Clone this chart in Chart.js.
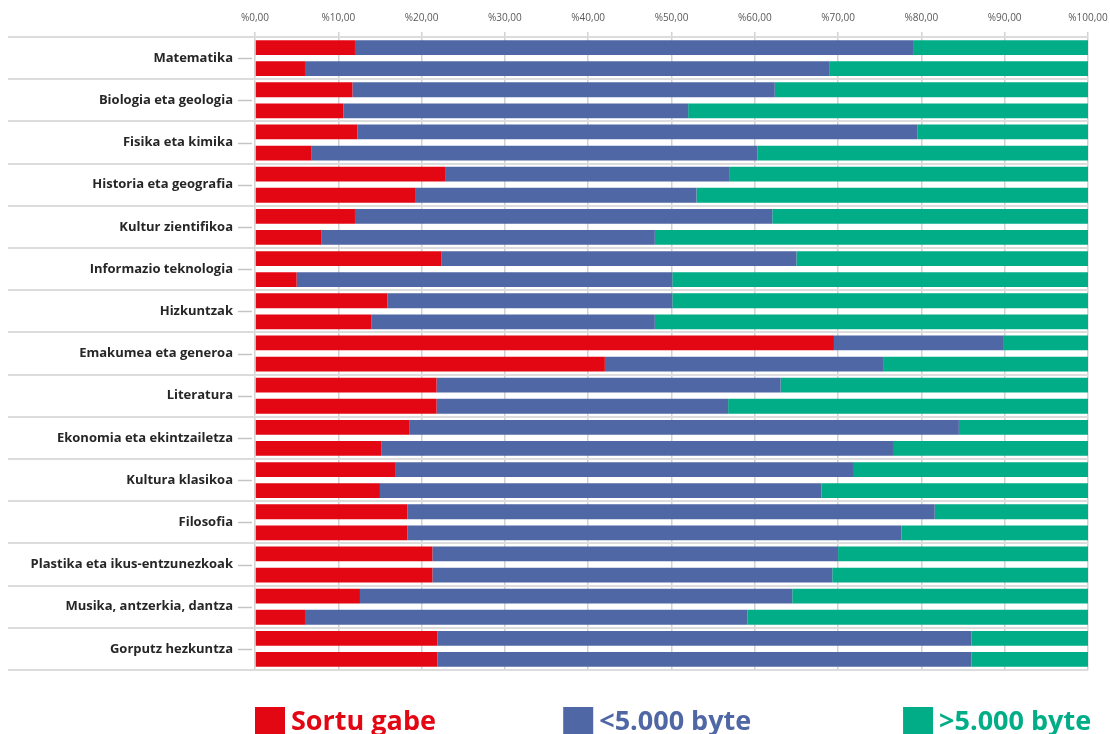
<!DOCTYPE html>
<html>
<head>
<meta charset="utf-8">
<script src="https://cdn.jsdelivr.net/npm/chart.js@4.4.1/dist/chart.umd.min.js"></script>
<style>
  html, body { margin: 0; padding: 0; background: #ffffff; }
  #wrap { width: 1110px; height: 734px; position: relative; }
</style>
</head>
<body>
<div id="wrap"><canvas id="c" width="1110" height="734"></canvas></div>
<script>
// ---- data ----
const categories = [
  "Matematika", "Biologia eta geologia", "Fisika eta kimika", "Historia eta geografia",
  "Kultur zientifikoa", "Informazio teknologia", "Hizkuntzak", "Emakumea eta generoa",
  "Literatura", "Ekonomia eta ekintzailetza", "Kultura klasikoa", "Filosofia",
  "Plastika eta ikus-entzunezkoak", "Musika, antzerkia, dantza", "Gorputz hezkuntza"
];
const seriesNames = ["Sortu gabe", "<5.000 byte", ">5.000 byte"];
const tickLabels = ["%0,00", "%10,00", "%20,00", "%30,00", "%40,00", "%50,00",
                    "%60,00", "%70,00", "%80,00", "%90,00", "%100,00"];

// upper bar of each pair
const sortuGabe1 = [12.0, 11.7, 12.3, 22.9, 12.0, 22.4, 15.9, 69.5, 21.8, 18.5, 16.9, 18.3, 21.3, 12.6, 21.9];
const txikia1    = [67.0, 50.7, 67.2, 34.1, 50.1, 42.6, 34.2, 20.4, 41.3, 66.0, 55.0, 63.3, 48.7, 51.9, 64.1];
const handia1    = [21.0, 37.6, 20.5, 43.0, 37.9, 35.0, 49.9, 10.1, 36.9, 15.5, 28.1, 18.4, 30.0, 35.5, 14.0];
// lower bar of each pair
const sortuGabe2 = [6.0, 10.6, 6.8, 19.3, 8.0, 5.0, 14.0, 42.0, 21.8, 15.2, 15.0, 18.3, 21.3, 6.0, 21.9];
const txikia2    = [63.0, 41.4, 53.5, 33.7, 40.0, 45.1, 34.0, 33.4, 35.0, 61.5, 53.0, 59.3, 48.0, 53.1, 64.1];
const handia2    = [31.0, 48.0, 39.7, 47.0, 52.0, 49.9, 52.0, 24.6, 43.2, 23.3, 32.0, 22.4, 30.7, 40.9, 14.0];

// ---- style ----
const colors = ["#e30613", "#5067a5", "#00ad87"];

const ds = (label, data, color, stack) => ({
  label, data, stack, backgroundColor: color, borderWidth: 0,
  categoryPercentage: 1.0, barPercentage: 0.7
});

const centerTicks = {
  id: 'centerTicks',
  afterDraw(chart) {
    const ctx = chart.ctx, y = chart.scales.y, left = chart.chartArea.left;
    ctx.save();
    ctx.strokeStyle = '#c4c4c4';
    ctx.lineWidth = 1.5;
    categories.forEach((c, i) => {
      const py = Math.round(y.getPixelForValue(i)) + 0.5;
      ctx.beginPath();
      ctx.moveTo(left - 17, py);
      ctx.lineTo(left - 3, py);
      ctx.stroke();
    });
    ctx.restore();
  }
};

const bottomLegend = {
  id: 'bottomLegend',
  afterDraw(chart) {
    const ctx = chart.ctx, a = chart.chartArea;
    const fr = [0, 0.37, 0.778];
    ctx.save();
    ctx.font = "700 27px 'Open Sans', sans-serif";
    ctx.textBaseline = 'alphabetic';
    ctx.textAlign = 'left';
    seriesNames.forEach((n, i) => {
      const x = a.left + fr[i] * (a.right - a.left);
      ctx.fillStyle = colors[i];
      ctx.fillRect(x, 707, 30, 40);
      ctx.fillText(n, x + 36, 730);
    });
    ctx.restore();
  }
};

new Chart(document.getElementById('c'), {
  type: 'bar',
  data: {
    labels: categories,
    datasets: [
      ds(seriesNames[0], sortuGabe1, colors[0], 'a'),
      ds(seriesNames[1], txikia1, colors[1], 'a'),
      ds(seriesNames[2], handia1, colors[2], 'a'),
      ds(seriesNames[0], sortuGabe2, colors[0], 'b'),
      ds(seriesNames[1], txikia2, colors[1], 'b'),
      ds(seriesNames[2], handia2, colors[2], 'b')
    ]
  },
  options: {
    indexAxis: 'y',
    responsive: false,
    animation: false,
    layout: { padding: { left: 8, right: 22, top: 4, bottom: 64 } },
    plugins: {
      legend: { display: false },
      tooltip: { enabled: false }
    },
    scales: {
      x: {
        position: 'top',
        stacked: true,
        min: 0, max: 100,
        border: { display: false },
        grid: { color: '#d2d2d2', lineWidth: 1.5, drawTicks: true, tickLength: 5, tickColor: '#d2d2d2' },
        ticks: {
          stepSize: 10,
          padding: 8,
          color: '#595959',
          font: { family: "'Open Sans', sans-serif", size: 10 },
          callback: (v, i) => tickLabels[i]
        },
        afterFit: (s) => { s.paddingLeft = 0; s.paddingRight = 0; }
      },
      y: {
        stacked: true,
        border: { display: false },
        grid: { color: '#dcdcdc', lineWidth: 2, offset: true, drawTicks: true, tickLength: 247, tickColor: '#dcdcdc', tickWidth: 2 },
        ticks: {
          padding: -225,
          color: '#262626',
          font: { family: "'Open Sans', sans-serif", size: 13, weight: '700' }
        },
        afterFit: (s) => { s.width = 247; }
      }
    }
  },
  plugins: [centerTicks, bottomLegend]
});
</script>
</body>
</html>
